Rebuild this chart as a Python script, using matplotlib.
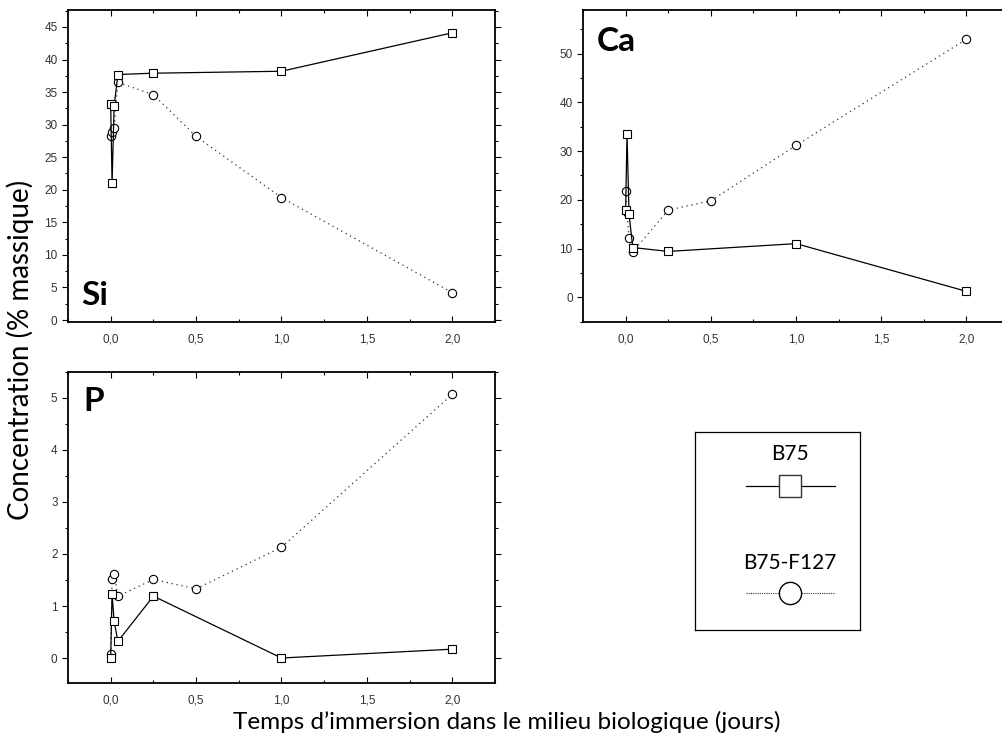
import numpy as np
import matplotlib.pyplot as plt
from matplotlib.ticker import MultipleLocator, FuncFormatter

# temps d'immersion (jours)
t_b75 = [0, 0.008, 0.02, 0.042, 0.25, 1, 2]
t_f127 = [0, 0.008, 0.02, 0.042, 0.25, 0.5, 1, 2]

si_b75 = [33.1, 21.0, 32.8, 37.7, 37.9, 38.2, 44.1]
si_f127 = [28.3, 28.8, 29.5, 36.5, 34.6, 28.2, 18.8, 4.2]

ca_b75 = [18.0, 33.5, 17.0, 10.2, 9.4, 11.0, 1.2]
ca_f127 = [21.8, 17.5, 12.2, 9.3, 17.9, 19.8, 31.2, 53.0]

p_b75 = [0.0, 1.24, 0.71, 0.32, 1.19, 0.0, 0.17]
p_f127 = [0.08, 1.51, 1.61, 1.19, 1.51, 1.33, 2.13, 5.07]

x_ticks = [0.0, 0.5, 1.0, 1.5, 2.0]

plt.rcParams['font.family'] = ['Liberation Sans', 'DejaVu Sans']
txt_font = ['Lato', 'DejaVu Sans']

fig = plt.figure(figsize=(10.03, 7.37), dpi=100)

panels = [
    # rect, name, b75, f127, ylim, major, minor, letter pos
    ([0.0678, 0.5631, 0.4257, 0.4233], 'Si', si_b75, si_f127, (-0.3, 47.6), 5, 2.5, (0.03, 0.085)),
    ([0.5813, 0.5631, 0.4247, 0.4233], 'Ca', ca_b75, ca_f127, (-5.1, 59.0), 10, 5, (0.033, 0.9)),
    ([0.0678, 0.0733, 0.4257, 0.4220], 'P', p_b75, p_f127, (-0.48, 5.5), 1, 0.5, (0.035, 0.905)),
]

comma = FuncFormatter(lambda v, pos: ('%.1f' % v).replace('.', ','))

for rect, name, yb, yf, ylim, major, minor, lpos in panels:
    ax = fig.add_axes(rect)
    ax.plot(t_f127, yf, color='#333333', lw=0.9, linestyle=(0, (1, 3)),
            marker='o', ms=6, mfc='white', mec='black', mew=0.8)
    ax.plot(t_b75, yb, color='black', lw=0.9, linestyle='-',
            marker='s', ms=5.5, mfc='white', mec='black', mew=0.8)
    ax.set_xlim(-0.25, 2.25)
    ax.set_ylim(*ylim)
    ax.set_xticks(x_ticks)
    ax.xaxis.set_major_formatter(comma)
    ax.xaxis.set_minor_locator(MultipleLocator(0.25))
    ax.yaxis.set_major_locator(MultipleLocator(major))
    ax.yaxis.set_minor_locator(MultipleLocator(minor))
    ax.tick_params(axis='x', which='both', direction='in', top=True, labelsize=8.5, pad=8,
                   labelcolor='#333333')
    ax.tick_params(axis='y', which='both', direction='out', right=True, labelsize=8.5,
                   labelcolor='#333333')
    ax.tick_params(which='major', length=4, width=0.8)
    ax.tick_params(which='minor', length=2.5, width=0.8)
    for s in ax.spines.values():
        s.set_linewidth(1.3)
    ax.text(lpos[0], lpos[1], name, transform=ax.transAxes,
            fontsize=24, fontweight='bold', family=txt_font,
            va='center', ha='left')

# legende
lax = fig.add_axes([0.6929, 0.1452, 0.1645, 0.2687])
lax.set_xlim(0, 1)
lax.set_ylim(0, 1)
lax.set_xticks([])
lax.set_yticks([])
for s in lax.spines.values():
    s.set_linewidth(0.9)
xc = 0.577
lax.text(xc, 0.89, 'B75', ha='center', va='center', fontsize=15, family=txt_font)
lax.plot([0.31, 0.85], [0.727, 0.727], color='black', lw=0.9)
lax.plot([xc], [0.727], marker='s', ms=16.5, mfc='white', mec='#333333', mew=1)
lax.text(xc, 0.34, 'B75-F127', ha='center', va='center', fontsize=15, family=txt_font)
lax.plot([0.31, 0.85], [0.187, 0.187], color='#333333', lw=0.8, linestyle=(0, (1, 1)))
lax.plot([xc], [0.187], marker='o', ms=16, mfc='white', mec='black', mew=1)

fig.text(0.02, 0.525, 'Concentration (% massique)', rotation=90, ha='center', va='center',
         fontsize=20, family=txt_font)
fig.text(0.505, 0.02, 'Temps d\u2019immersion dans le milieu biologique (jours)', ha='center',
         va='center', fontsize=17.5, family=txt_font)

fig.savefig('out.png', dpi=100)
